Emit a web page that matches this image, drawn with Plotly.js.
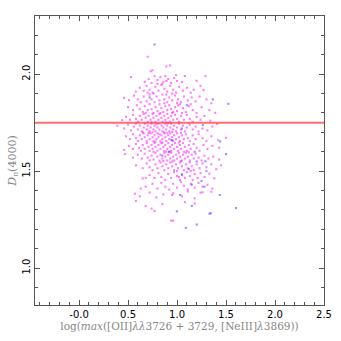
<!DOCTYPE html>
<html><head><meta charset="utf-8">
<script src="https://cdn.plot.ly/plotly-3.0.1.min.js"></script>
<style>html,body{margin:0;padding:0;background:#fff}</style>
</head><body><div id="chart" style="width:341px;height:341px"></div>
<script>
// x: log(max([OII]3726+3729,[NeIII]3869)), y: Dn(4000)
const magentaPts = [
[0.70,2.09],[0.89,2.04],[0.93,2.045],[0.73,2.015],[0.75,2.02],
[0.53,1.985],[0.67,1.96],[0.71,1.975],[0.77,1.99],[0.80,1.97],[0.83,1.985],[0.86,1.96],[0.88,1.99],[0.91,1.975],[0.94,1.955],[0.97,1.98],[1.00,1.965],[1.05,1.96],[1.08,1.99],[1.20,1.966],[1.29,1.99],[0.85,1.95],[0.99,1.995],[0.74,1.955],[0.89,1.965],
[0.62,1.93],[0.66,1.915],[0.69,1.94],[0.72,1.92],[0.75,1.905],[0.78,1.935],[0.81,1.915],[0.84,1.945],[0.87,1.925],[0.90,1.91],[0.93,1.94],[0.96,1.92],[0.99,1.905],[1.02,1.935],[1.06,1.915],[1.10,1.93],[1.14,1.905],[1.27,1.918],[1.24,1.94],[0.70,1.905],[0.80,1.95],[0.95,1.90],[1.17,1.92],[0.58,1.91],
[0.46,1.878],[0.51,1.866],[0.56,1.89],[0.60,1.87],[0.63,1.855],[0.66,1.885],[0.69,1.86],[0.72,1.895],[0.74,1.87],[0.77,1.855],[0.79,1.885],[0.82,1.865],[0.85,1.895],[0.87,1.87],[0.90,1.855],[0.92,1.88],[0.95,1.865],[0.98,1.89],[1.01,1.87],[1.04,1.855],[1.07,1.885],[1.11,1.865],[1.15,1.88],[1.19,1.86],[1.23,1.885],[1.30,1.87],[1.35,1.85],[0.76,1.90],[0.89,1.895],[1.00,1.852],
[0.50,1.83],[0.55,1.815],[0.59,1.84],[0.62,1.82],[0.65,1.805],[0.67,1.835],[0.70,1.815],[0.72,1.845],[0.74,1.82],[0.76,1.80],[0.78,1.83],[0.80,1.81],[0.82,1.845],[0.84,1.825],[0.86,1.805],[0.88,1.835],[0.90,1.815],[0.92,1.84],[0.94,1.82],[0.96,1.805],[0.98,1.83],[1.00,1.81],[1.03,1.845],[1.06,1.825],[1.09,1.805],[1.12,1.835],[1.16,1.815],[1.20,1.80],[1.25,1.83],[1.33,1.815],[1.39,1.80],[0.68,1.80],[0.87,1.85],[1.01,1.84],[1.14,1.845],
[0.44,1.763],[0.48,1.78],[0.52,1.765],[0.55,1.79],[0.58,1.77],[0.60,1.755],[0.62,1.785],[0.64,1.765],[0.66,1.795],[0.68,1.775],[0.70,1.755],[0.71,1.785],[0.73,1.765],[0.75,1.795],[0.76,1.775],[0.78,1.755],[0.79,1.785],[0.81,1.765],[0.82,1.795],[0.84,1.775],[0.85,1.755],[0.87,1.785],[0.88,1.765],[0.90,1.795],[0.91,1.775],[0.93,1.755],[0.94,1.785],[0.96,1.765],[0.98,1.79],[1.00,1.77],[1.02,1.755],[1.04,1.785],[1.07,1.765],[1.10,1.79],[1.13,1.77],[1.16,1.755],[1.20,1.78],[1.24,1.765],[1.28,1.785],[1.34,1.76],[0.83,1.80],[0.95,1.80],[0.74,1.752],[0.89,1.752],[1.05,1.80],
[0.39,1.734],[0.46,1.72],[0.50,1.74],[0.53,1.71],[0.56,1.73],[0.58,1.745],[0.60,1.715],[0.62,1.735],[0.64,1.705],[0.66,1.725],[0.67,1.745],[0.69,1.715],[0.70,1.735],[0.72,1.705],[0.73,1.725],[0.74,1.745],[0.76,1.715],[0.77,1.735],[0.78,1.705],[0.80,1.725],[0.81,1.745],[0.82,1.715],[0.84,1.735],[0.85,1.705],[0.86,1.725],[0.88,1.745],[0.89,1.715],[0.90,1.735],[0.92,1.705],[0.93,1.725],[0.94,1.745],[0.96,1.715],[0.97,1.735],[0.99,1.705],[1.00,1.725],[1.02,1.745],[1.04,1.715],[1.06,1.735],[1.08,1.705],[1.10,1.725],[1.13,1.74],[1.16,1.715],[1.19,1.73],[1.22,1.705],[1.26,1.72],[1.31,1.71],[1.36,1.73],[1.41,1.743],[0.75,1.70],[0.87,1.70],[0.95,1.702],[0.79,1.742],[0.91,1.748],[0.65,1.70],
[0.48,1.68],[0.52,1.665],[0.55,1.69],[0.58,1.67],[0.60,1.655],[0.62,1.685],[0.64,1.665],[0.66,1.695],[0.67,1.675],[0.69,1.655],[0.70,1.685],[0.72,1.665],[0.73,1.695],[0.75,1.675],[0.76,1.655],[0.77,1.685],[0.79,1.665],[0.80,1.695],[0.81,1.675],[0.83,1.655],[0.84,1.685],[0.85,1.665],[0.87,1.695],[0.88,1.675],[0.89,1.655],[0.91,1.685],[0.92,1.665],[0.93,1.695],[0.95,1.675],[0.96,1.655],[0.97,1.685],[0.99,1.665],[1.00,1.695],[1.02,1.675],[1.03,1.655],[1.05,1.685],[1.07,1.665],[1.09,1.69],[1.11,1.67],[1.13,1.655],[1.16,1.685],[1.19,1.665],[1.22,1.69],[1.26,1.67],[1.30,1.655],[1.35,1.68],[1.42,1.66],[1.50,1.672],[0.82,1.69],[0.94,1.66],[0.78,1.652],[0.90,1.698],[1.04,1.698],[0.71,1.698],
[0.46,1.61],[0.51,1.63],[0.55,1.615],[0.58,1.64],[0.61,1.62],[0.63,1.605],[0.65,1.635],[0.67,1.615],[0.69,1.645],[0.71,1.625],[0.72,1.605],[0.74,1.635],[0.75,1.615],[0.77,1.645],[0.78,1.625],[0.80,1.605],[0.81,1.635],[0.83,1.615],[0.84,1.645],[0.86,1.625],[0.87,1.605],[0.88,1.635],[0.90,1.615],[0.91,1.645],[0.93,1.625],[0.94,1.605],[0.95,1.635],[0.97,1.615],[0.98,1.645],[1.00,1.625],[1.01,1.605],[1.03,1.635],[1.04,1.615],[1.06,1.645],[1.08,1.625],[1.10,1.605],[1.12,1.635],[1.14,1.615],[1.17,1.64],[1.20,1.62],[1.23,1.605],[1.27,1.635],[1.31,1.615],[1.36,1.63],[1.43,1.621],[0.89,1.60],[0.76,1.60],[1.02,1.648],[0.92,1.60],[0.85,1.648],[1.07,1.60],
[0.47,1.588],[0.55,1.57],[0.60,1.585],[0.64,1.565],[0.67,1.59],[0.70,1.57],[0.72,1.555],[0.74,1.58],[0.76,1.56],[0.78,1.595],[0.80,1.575],[0.82,1.555],[0.83,1.585],[0.85,1.565],[0.87,1.595],[0.88,1.575],[0.90,1.555],[0.91,1.585],[0.93,1.565],[0.94,1.595],[0.96,1.575],[0.97,1.555],[0.99,1.585],[1.00,1.565],[1.02,1.595],[1.03,1.575],[1.05,1.555],[1.06,1.585],[1.08,1.565],[1.09,1.595],[1.11,1.575],[1.13,1.555],[1.15,1.585],[1.17,1.565],[1.19,1.59],[1.22,1.57],[1.25,1.555],[1.28,1.58],[1.32,1.565],[1.37,1.575],[1.43,1.56],[0.95,1.55],[1.04,1.552],[0.86,1.552],[1.12,1.598],
[0.58,1.53],[0.65,1.515],[0.69,1.54],[0.72,1.52],[0.75,1.505],[0.78,1.535],[0.80,1.515],[0.83,1.545],[0.85,1.525],[0.87,1.505],[0.89,1.535],[0.91,1.515],[0.93,1.545],[0.95,1.525],[0.97,1.505],[0.99,1.535],[1.01,1.515],[1.03,1.545],[1.05,1.525],[1.07,1.505],[1.09,1.535],[1.11,1.515],[1.13,1.545],[1.15,1.525],[1.17,1.505],[1.20,1.535],[1.23,1.515],[1.26,1.54],[1.30,1.52],[1.35,1.535],[1.40,1.51],[1.45,1.53],[1.00,1.50],[1.14,1.50],
[0.65,1.463],[0.72,1.48],[0.77,1.465],[0.81,1.49],[0.84,1.47],[0.88,1.455],[0.91,1.485],[0.94,1.465],[0.97,1.495],[1.00,1.475],[1.03,1.455],[1.05,1.485],[1.08,1.465],[1.10,1.495],[1.13,1.475],[1.16,1.455],[1.18,1.485],[1.21,1.465],[1.24,1.49],[1.28,1.47],[1.33,1.487],[1.38,1.463],[0.68,1.465],[1.02,1.47],
[0.68,1.42],[0.75,1.435],[0.80,1.41],[0.84,1.44],[0.88,1.42],[0.92,1.405],[0.96,1.435],[1.00,1.415],[1.04,1.445],[1.07,1.425],[1.11,1.405],[1.14,1.435],[1.18,1.415],[1.22,1.44],[1.26,1.42],[1.31,1.43],[1.36,1.41],[0.63,1.41],
[0.57,1.384],[0.62,1.37],[0.72,1.39],[0.79,1.365],[0.86,1.38],[0.95,1.377],[0.96,1.386],[1.05,1.37],[1.11,1.395],[1.18,1.36],[1.24,1.389],[1.26,1.391],[1.35,1.394],[0.58,1.346],
[0.74,1.307],[0.77,1.295],[0.94,1.245],[0.96,1.245],[1.18,1.333],[0.85,1.33],[1.08,1.34],[0.68,1.32]
];
const bluePts = [
[0.77,2.153],[1.524,1.847],[1.365,1.870],[1.263,1.738],[1.44,1.653],[1.50,1.588],[0.998,1.293],[1.09,1.208],[1.202,1.225],[1.151,1.321],[1.331,1.281],[1.344,1.283],[1.602,1.31],[1.032,1.377],[1.436,1.377],[1.29,1.551],
[0.72,1.88],[1.10,1.84],[1.05,1.72],[0.92,1.60],[1.20,1.55],[1.25,1.45],[1.15,1.43],[1.05,1.48],[0.85,1.58],[1.30,1.50],[1.18,1.60],[0.95,1.66],[1.12,1.51],[1.28,1.42]
];
const dnCut = 1.75;
const xTickVals = [0, 0.5, 1.0, 1.5, 2.0, 2.5];
const xTickText = ['-0.0', '0.5', '1.0', '1.5', '2.0', '2.5'];
const yTickVals = [1.0, 1.5, 2.0];
const yTickText = ['1.0', '1.5', '2.0'];

const traces = [
  {x: magentaPts.map(p=>p[0]), y: magentaPts.map(p=>p[1]), type:'scatter', mode:'markers',
   marker:{symbol:'square', size:2.1, color:'rgba(255,0,255,0.5)', line:{width:0}}, hoverinfo:'none'},
  {x: bluePts.map(p=>p[0]), y: bluePts.map(p=>p[1]), type:'scatter', mode:'markers',
   marker:{symbol:'square', size:2.1, color:'rgba(60,60,255,0.55)', line:{width:0}}, hoverinfo:'none'},
  {x:[-0.45, 2.5], y:[dnCut, dnCut], type:'scatter', mode:'lines',
   line:{color:'rgba(255,60,60,0.75)', width:2}, hoverinfo:'none'}
];
const axisCommon = {showline:true, mirror:'allticks', linecolor:'#555', linewidth:1,
  ticks:'inside', ticklen:5, tickcolor:'#555', showgrid:false, zeroline:false,
  tickfont:{family:'DejaVu Sans', size:10, color:'#000'}};
const layout = {
  width:341, height:341, showlegend:false,
  paper_bgcolor:'#fff', plot_bgcolor:'#fff',
  margin:{l:34.5, r:16.5, t:15.5, b:36, pad:0},
  xaxis: Object.assign({}, axisCommon, {range:[-0.45, 2.5], tickvals:xTickVals, ticktext:xTickText,
    minor:{dtick:0.1, ticks:'inside', ticklen:3, tickcolor:'#555', tick0:0},
    title:{text:'log(<i>max</i>([OII]<i>λλ</i>3726 + 3729, [NeIII]<i>λ</i>3869))', standoff:3,
      font:{family:'DejaVu Serif', size:10.5, color:'#888'}}}),
  yaxis: Object.assign({}, axisCommon, {range:[0.81, 2.30], tickvals:yTickVals, ticktext:yTickText, tickangle:-90,
    minor:{dtick:0.1, ticks:'inside', ticklen:3, tickcolor:'#555', tick0:0},
    title:{text:'<i>D</i><sub><i>n</i></sub>(4000)', standoff:2,
      font:{family:'DejaVu Serif', size:11, color:'#888'}}})
};
Plotly.newPlot('chart', traces, layout, {staticPlot:true, displayModeBar:false});
</script></body></html>
